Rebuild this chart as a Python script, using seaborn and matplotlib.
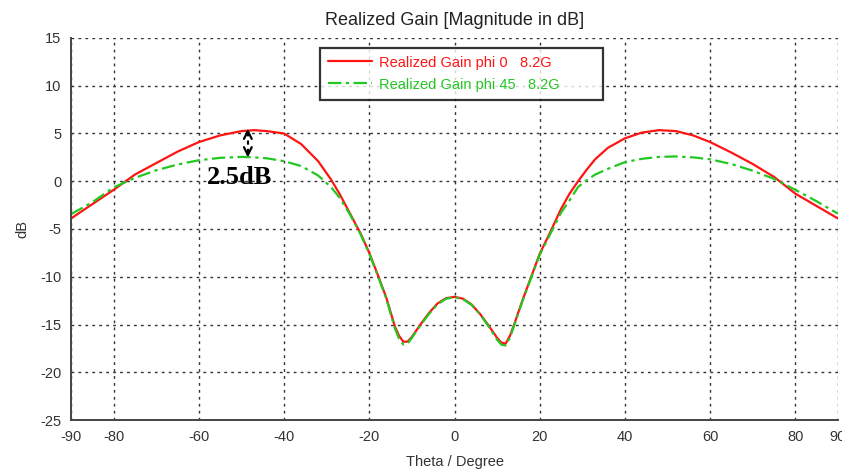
import matplotlib
matplotlib.use("Agg")
import matplotlib.pyplot as plt
import pandas as pd
import seaborn as sns

# theta (deg) and realized gain (dB)
theta = [-90, -85, -80, -75, -70, -65, -60, -55, -50, -47, -44, -40, -36, -32, -29, -27,
         -24.5, -22, -20, -18, -16, -14, -13, -12, -11, -10, -8, -6, -4, -2, 0, 2, 4, 6,
         8, 10, 11, 12, 13, 14, 16, 18, 20, 22.5, 25, 27, 29, 31, 33, 36, 40, 44, 48, 52,
         56, 60, 65, 70, 75, 80, 85, 90]
gain_phi0 = [-3.9, -2.4, -0.9, 0.7, 1.9, 3.1, 4.1, 4.8, 5.25, 5.35, 5.25, 5.0, 3.9, 2.1,
             0.2, -1.3, -3.4, -5.5, -7.5, -9.8, -12.2, -15.2, -16.2, -16.8, -16.8, -16.3,
             -15.0, -13.8, -12.8, -12.25, -12.1, -12.3, -12.9, -13.9, -15.1, -16.4, -16.9,
             -17.0, -16.2, -15.0, -12.4, -10.0, -7.6, -5.3, -2.9, -1.3, 0.0, 1.2, 2.3, 3.5,
             4.5, 5.1, 5.35, 5.25, 4.8, 4.1, 3.0, 1.8, 0.45, -1.3, -2.6, -3.9]
gain_phi45 = [-3.45, -2.2, -0.65, 0.35, 1.15, 1.75, 2.2, 2.45, 2.55, 2.5, 2.4, 2.1, 1.6,
              0.6, -0.6, -1.7, -3.5, -5.6, -7.6, -9.9, -12.3, -15.4, -16.5, -17.1, -17.0,
              -16.4, -15.1, -13.9, -12.9, -12.3, -12.15, -12.35, -12.95, -13.95, -15.2,
              -16.6, -17.1, -17.2, -16.4, -15.1, -12.5, -10.1, -7.7, -5.5, -3.3, -2.0,
              -0.6, 0.1, 0.7, 1.3, 2.0, 2.35, 2.55, 2.6, 2.5, 2.3, 1.8, 1.1, 0.25, -0.9,
              -2.1, -3.4]
series_names = ["Realized Gain phi 0   8.2G", "Realized Gain phi 45   8.2G"]
x_ticks = [-90, -80, -60, -40, -20, 0, 20, 40, 60, 80, 90]
y_ticks = [-25, -20, -15, -10, -5, 0, 5, 10, 15]

df = pd.DataFrame({
    "theta": theta * 2,
    "gain": gain_phi0 + gain_phi45,
    "series": [series_names[0]] * len(theta) + [series_names[1]] * len(theta),
})

sns.set_style("white")
plt.rcParams["font.family"] = ["Liberation Sans", "DejaVu Sans"]
plt.rcParams["axes.unicode_minus"] = False

red = "#ff1414"
green = "#22c822"

fig = plt.figure(figsize=(8.42, 4.76), dpi=100)
ax = fig.add_axes([71 / 842, 1 - 420 / 476, 767 / 842, 382 / 476])

sns.lineplot(data=df, x="theta", y="gain", hue="series", style="series",
             palette=[red, green], dashes=[(None, None), (6, 2, 1.5, 2)],
             linewidth=1.6, ax=ax, legend=False)
ax.lines[0].set_linestyle("-")
ax.lines[1].set_linestyle((0, (6, 2, 1.5, 2)))

ax.set_xlim(-90, 90)
ax.set_ylim(-25, 15)
ax.set_xticks(x_ticks)
ax.set_yticks(y_ticks)
ax.grid(True, color="#333333", linestyle=(0, (2, 3)), linewidth=1.0)
ax.tick_params(direction="inout", length=7, width=1.2, colors="#333333",
               labelsize=10.5, labelcolor="#333333")
for side in ["top", "right"]:
    ax.spines[side].set_visible(False)
for side in ["left", "bottom"]:
    ax.spines[side].set_color("#444444")
    ax.spines[side].set_linewidth(1.4)

ax.set_title("Realized Gain [Magnitude in dB]", fontsize=13, pad=9, color="#222222")
ax.set_xlabel("Theta / Degree", fontsize=10.5, color="#333333", labelpad=8)
ax.set_ylabel("dB", fontsize=10.5, color="#333333", labelpad=8)

leg = ax.legend(ax.lines[:2], series_names, loc="upper left",
                bbox_to_anchor=(0.325, 0.975, 0.369, 0), mode="expand",
                fontsize=10.5, frameon=True, fancybox=False, edgecolor="black",
                handlelength=3.0, handletextpad=0.5, borderpad=0.55,
                labelspacing=0.55, borderaxespad=0)
leg.get_frame().set_linewidth(1.6)
for txt, c in zip(leg.get_texts(), [red, green]):
    txt.set_color(c)

# 2.5 dB difference marker
ax.plot([-48.5, -48.5], [3.0, 5.0], color="black", linestyle=(0, (2, 2)), linewidth=1.5)
ax.annotate("", xy=(-48.5, 5.8), xytext=(-48.5, 4.6),
            arrowprops=dict(arrowstyle="->", lw=1.6, color="black", mutation_scale=14))
ax.annotate("", xy=(-48.5, 2.2), xytext=(-48.5, 3.4),
            arrowprops=dict(arrowstyle="->", lw=1.6, color="black", mutation_scale=14))
ax.text(-50.5, 0.4, "2.5dB", family="Liberation Serif", fontweight="bold",
        fontsize=19, ha="center", va="center", color="black")

fig.savefig("out.png", dpi=100)
